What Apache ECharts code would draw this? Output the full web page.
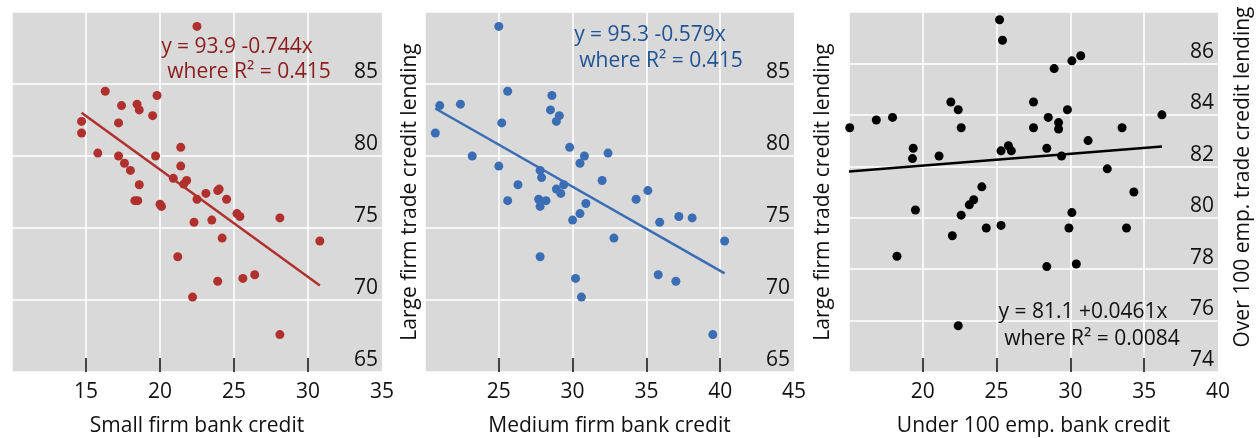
<!DOCTYPE html>
<html>
<head>
<meta charset="utf-8">
<script src="https://cdn.jsdelivr.net/npm/echarts@6/dist/echarts.min.js"></script>
<style>
  html, body { margin: 0; padding: 0; background: #fff; }
  #chart { width: 1256px; height: 438px; }
</style>
</head>
<body>
<div id="chart"></div>
<script>
// points: [bank credit, trade credit lending]
const smallFirm = [
  [22.5, 89.0], [16.3, 84.5], [17.4, 83.5], [18.45, 83.6], [18.6, 83.2],
  [19.8, 84.2], [19.5, 82.8], [17.2, 82.3], [14.7, 82.4], [14.7, 81.6],
  [15.8, 80.2], [17.2, 80.0], [19.7, 80.0], [21.4, 80.6], [17.6, 79.5],
  [18.0, 79.0], [21.4, 79.3], [18.6, 78.0], [20.9, 78.45], [21.8, 78.3],
  [21.6, 78.05], [23.1, 77.4], [23.9, 77.6], [24.0, 77.7], [18.3, 76.9],
  [18.5, 76.9], [20.0, 76.65], [20.1, 76.5], [22.5, 77.0], [24.5, 77.0],
  [25.2, 76.0], [25.4, 75.8], [28.1, 75.7], [22.3, 75.4], [23.5, 75.55],
  [24.2, 74.3], [30.8, 74.1], [21.2, 73.0], [23.9, 71.3], [25.6, 71.5],
  [26.4, 71.75], [22.2, 70.2], [28.1, 67.6]
];
const mediumFirm = [
  [25.0, 89.0], [25.6, 84.5], [28.6, 84.2], [28.5, 83.2], [29.1, 82.8],
  [21.0, 83.5], [22.4, 83.6], [28.9, 82.4], [25.2, 82.3], [20.7, 81.6],
  [29.8, 80.6], [23.2, 80.0], [30.8, 80.0], [32.4, 80.2], [30.5, 79.5],
  [25.0, 79.3], [27.8, 79.0], [27.9, 78.5], [26.3, 78.0], [32.0, 78.3],
  [29.4, 78.0], [28.9, 77.7], [29.2, 77.4], [35.1, 77.6], [25.6, 76.9],
  [27.7, 77.0], [27.8, 76.5], [28.2, 76.9], [34.3, 77.0], [30.9, 76.7],
  [30.5, 76.0], [30.0, 75.55], [35.9, 75.4], [37.2, 75.8], [38.1, 75.7],
  [32.8, 74.3], [40.3, 74.1], [27.8, 73.0], [30.2, 71.5], [35.8, 71.75],
  [37.0, 71.3], [30.6, 70.2], [39.5, 67.6]
];
const under100 = [
  [25.2, 87.7], [25.4, 86.9], [30.1, 86.1], [30.7, 86.3], [28.9, 85.8],
  [21.9, 84.5], [22.4, 84.2], [27.5, 84.5], [29.8, 84.2], [16.85, 83.8],
  [17.95, 83.9], [36.2, 84.0], [28.5, 83.9], [15.05, 83.5], [22.6, 83.5],
  [27.5, 83.5], [29.2, 83.7], [29.2, 83.45], [33.5, 83.5], [19.35, 82.7],
  [19.3, 82.3], [21.1, 82.4], [25.3, 82.6], [25.8, 82.8], [26.0, 82.6],
  [28.4, 82.7], [31.2, 83.0], [29.4, 82.4], [32.5, 81.9], [24.0, 81.2],
  [34.3, 81.0], [23.45, 80.7], [23.15, 80.5], [19.5, 80.3], [22.6, 80.1],
  [30.1, 80.2], [22.0, 79.3], [24.3, 79.6], [25.3, 79.7], [29.9, 79.6],
  [33.8, 79.6], [18.25, 78.5], [28.4, 78.1], [30.4, 78.2], [22.4, 75.8]
];

// fitted lines, end points as drawn
const smallFit = [[14.7, 83.0], [30.8, 71.0]];
const mediumFit = [[20.7, 83.3], [40.3, 71.85]];
const under100Fit = [[15.0, 81.8], [36.2, 82.77]];

const fitText = [
  ["y = 93.9 -0.744x", "where R\u00b2 = 0.415"],
  ["y = 95.3 -0.579x", "where R\u00b2 = 0.415"],
  ["y = 81.1 +0.0461x", "where R\u00b2 = 0.0084"]
];

const xNames = ["Small firm bank credit", "Medium firm bank credit", "Under 100 emp. bank credit"];
const xRanges = [[10, 35], [20, 45], [15, 40]];
const xTicks = [[10, 15, 20, 25, 30], [20, 25, 30, 35, 40], [15, 20, 25, 30, 35]];
const yRanges = [[65, 90, 5], [65, 90, 5], [74, 88, 2]];

const FONT = "'Open Sans', 'Noto Sans', sans-serif";
const FS = 21;
const chart = echarts.init(document.getElementById("chart"));

// outerBoundsMode none: keep the plot boxes where they are, names may sit near the edge
const grids = [
  { left: 12, right: 874, top: 12, bottom: 66 },
  { left: 425, right: 462, top: 12, bottom: 66 },
  { left: 849, right: 38, top: 12, bottom: 66 }
].map((g) => ({
  ...g,
  show: true,
  backgroundColor: "#d9d9d9",
  borderWidth: 0,
  containLabel: false,
  outerBoundsMode: "none"
}));

const xAxes = xNames.map((name, i) => ({
  type: "value",
  gridIndex: i,
  min: xRanges[i][0],
  max: xRanges[i][1],
  interval: 5,
  name: name,
  nameLocation: "middle",
  nameGap: 44,
  nameTextStyle: { fontFamily: FONT, fontSize: FS, color: "#111" },
  axisLine: { show: false },
  axisTick: {
    show: true,
    inside: true,
    length: 14,
    customValues: xTicks[i],
    lineStyle: { color: "#444", width: 2 }
  },
  axisLabel: {
    showMinLabel: false,
    margin: 10,
    fontFamily: FONT,
    fontSize: FS,
    color: "#111"
  },
  splitLine: { lineStyle: { color: "#fff", width: 1.5 } }
}));

const yAxes = yRanges.map((r, i) => ({
  type: "value",
  gridIndex: i,
  position: "right",
  min: r[0],
  max: r[1],
  interval: r[2],
  axisLine: { show: false },
  axisTick: { show: false },
  axisLabel: {
    inside: true,
    showMaxLabel: false,
    margin: 4,
    verticalAlign: "bottom",
    padding: [0, 0, 1, 0],
    fontFamily: FONT,
    fontSize: FS,
    color: "#111"
  },
  splitLine: { lineStyle: { color: "#fff", width: 1.5 } }
}));

// right side title of the last panel
yAxes[2].name = "Over 100 emp. trade credit lending";
yAxes[2].nameLocation = "middle";
yAxes[2].nameRotate = 90;
yAxes[2].nameGap = 15;
yAxes[2].nameTextStyle = { fontFamily: FONT, fontSize: FS, color: "#111", padding: [0, 0, 0, 30] };

// left side titles of panels 2 and 3
[[1, 4], [2, 15]].forEach(([gi, gap]) => {
  yAxes.push({
    type: "value",
    gridIndex: gi,
    position: "left",
    min: yRanges[gi][0],
    max: yRanges[gi][1],
    name: "Large firm trade credit lending",
    nameLocation: "middle",
    nameRotate: 90,
    nameGap: gap,
    nameTextStyle: { fontFamily: FONT, fontSize: FS, color: "#111" },
    axisLine: { show: false },
    axisTick: { show: false },
    axisLabel: { show: false },
    splitLine: { show: false }
  });
});

const colors = ["#b0302e", "#3a6db4", "#000000"];
const textColors = ["#8c1c1c", "#1f5394", "#111111"];
const points = [smallFirm, mediumFirm, under100];
const fits = [smallFit, mediumFit, under100Fit];

const series = [];
points.forEach((pts, i) => {
  series.push({
    type: "scatter",
    xAxisIndex: i,
    yAxisIndex: i,
    symbolSize: 9,
    itemStyle: { color: colors[i], opacity: 1 },
    data: pts
  });
  series.push({
    type: "line",
    xAxisIndex: i,
    yAxisIndex: i,
    symbol: "none",
    lineStyle: { color: colors[i], width: 2.5 },
    data: fits[i]
  });
});

// equation labels
const textPos = [
  [[237, 47], [249, 72]],
  [[650, 35], [661, 61]],
  [[1083, 312], [1092, 339]]
];
const graphic = [];
fitText.forEach((lines, i) => {
  lines.forEach((t, j) => {
    graphic.push({
      type: "text",
      z: 100,
      x: textPos[i][j][0],
      y: textPos[i][j][1],
      style: {
        text: t,
        align: "center",
        verticalAlign: "middle",
        fontFamily: FONT,
        fontSize: FS,
        fill: textColors[i]
      }
    });
  });
});

chart.setOption({
  animation: false,
  grid: grids,
  xAxis: xAxes,
  yAxis: yAxes,
  series: series,
  graphic: graphic
});
</script>
</body>
</html>
